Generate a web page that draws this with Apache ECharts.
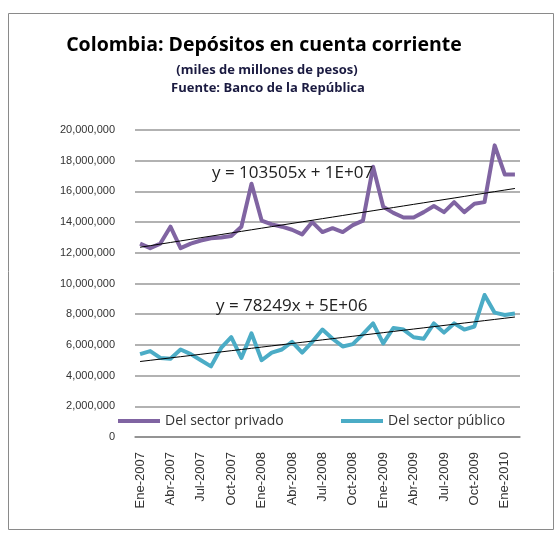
<!DOCTYPE html>
<html>
<head>
<meta charset="utf-8">
<script src="https://cdn.jsdelivr.net/npm/echarts@6/dist/echarts.min.js"></script>
<style>html,body{margin:0;padding:0;background:#fff;}#c{width:560px;height:537px;}</style>
</head>
<body>
<div id="c"></div>
<script>
const categories = [
 'Ene-2007','Feb-2007','Mar-2007','Abr-2007','May-2007','Jun-2007','Jul-2007','Ago-2007','Sep-2007','Oct-2007','Nov-2007','Dic-2007',
 'Ene-2008','Feb-2008','Mar-2008','Abr-2008','May-2008','Jun-2008','Jul-2008','Ago-2008','Sep-2008','Oct-2008','Nov-2008','Dic-2008',
 'Ene-2009','Feb-2009','Mar-2009','Abr-2009','May-2009','Jun-2009','Jul-2009','Ago-2009','Sep-2009','Oct-2009','Nov-2009','Dic-2009',
 'Ene-2010','Feb-2010'];

const privado = [12600000,12300000,12600000,13700000,12300000,12600000,12800000,12950000,13000000,13100000,
 13700000,16500000,14100000,13850000,13700000,13500000,13200000,14000000,13350000,13600000,
 13350000,13800000,14100000,17600000,15000000,14600000,14300000,14300000,14650000,15050000,
 14650000,15300000,14650000,15200000,15300000,19000000,17100000,17100000];

const publico = [5400000,5600000,5150000,5100000,5700000,5400000,5000000,4600000,5800000,6500000,5150000,6750000,
 5000000,5500000,5700000,6200000,5500000,6200000,7000000,6400000,5900000,6050000,6700000,7400000,
 6100000,7100000,7000000,6500000,6400000,7400000,6800000,7400000,7000000,7200000,9250000,8100000,7950000,8050000];

const seriesNames = ['Del sector privado','Del sector público'];
const trendLabels = ['y = 103505x + 1E+07','y = 78249x + 5E+06'];
const yTicks = {min:0, max:20000000, interval:2000000};

function linReg(arr){
  const n = arr.length;
  let sx=0, sy=0, sxx=0, sxy=0;
  for(let i=0;i<n;i++){const x=i+1, y=arr[i]; sx+=x; sy+=y; sxx+=x*x; sxy+=x*y;}
  const b=(n*sxy-sx*sy)/(n*sxx-sx*sx); const a=(sy-b*sx)/n;
  return arr.map((_,i)=>a+b*(i+1));
}

const chart = echarts.init(document.getElementById('c'), null, {renderer:'canvas'});
const font = "'Liberation Sans', Arial, sans-serif";
const fmt = v => v.toString().replace(/\B(?=(\d{3})+(?!\d))/g, ',');

chart.setOption({
  backgroundColor:'#fff',
  animation:false,
  graphic:[
    {type:'rect', shape:{x:8.5,y:13.5,width:545,height:516}, style:{fill:'none', stroke:'#8a8a8a', lineWidth:1}},
    {type:'text', x:264, y:45, style:{text:'Colombia: Depósitos en cuenta corriente', font:"bold 19.5px 'Open Sans', sans-serif", fill:'#000', align:'center', verticalAlign:'middle'}},
    {type:'text', x:267, y:70, style:{text:'(miles de millones de pesos)', font:"bold 13px 'Open Sans', sans-serif", fill:'#1a1a40', align:'center', verticalAlign:'middle'}},
    {type:'text', x:268, y:88, style:{text:'Fuente: Banco de la República', font:"bold 13px 'Open Sans', sans-serif", fill:'#1a1a40', align:'center', verticalAlign:'middle'}},
    {type:'text', x:212, y:173, z:10, style:{text:trendLabels[0], font:"17px 'Open Sans', sans-serif", fill:'#222', verticalAlign:'middle'}},
    {type:'text', x:216, y:306, z:10, style:{text:trendLabels[1], font:"17px 'Open Sans', sans-serif", fill:'#222', verticalAlign:'middle'}}
  ],
  legend:[
    {data:[seriesNames[0]], left:113, top:409, icon:'rect', itemWidth:42, itemHeight:4, itemGap:4,
     textStyle:{fontFamily:"'Open Sans', sans-serif", fontSize:14, color:'#333'}},
    {data:[seriesNames[1]], left:336, top:409, icon:'rect', itemWidth:42, itemHeight:4, itemGap:4,
     textStyle:{fontFamily:"'Open Sans', sans-serif", fontSize:14, color:'#333'}}
  ],
  grid:{left:135, right:40, top:130, bottom:100, containLabel:false},
  xAxis:{
    type:'category', data:categories, boundaryGap:true,
    axisLine:{lineStyle:{color:'#8a8a8a', width:1.5}},
    axisTick:{show:false},
    axisLabel:{interval:2, rotate:90, fontFamily:font, fontSize:13, color:'#333', margin:15}
  },
  yAxis:{
    type:'value', min:yTicks.min, max:yTicks.max, interval:yTicks.interval,
    axisLine:{show:false}, axisTick:{show:false},
    splitLine:{lineStyle:{color:'#999', width:1.5}},
    axisLabel:{formatter:fmt, fontFamily:font, fontSize:11, color:'#333', margin:20}
  },
  series:[
    {name:seriesNames[0], type:'line', data:privado, symbol:'none', color:'#8064A2', lineStyle:{width:4, color:'#8064A2', join:'round'}},
    {name:seriesNames[1], type:'line', data:publico, symbol:'none', color:'#4BACC6', lineStyle:{width:4, color:'#4BACC6', join:'round'}},
    {name:'trend1', type:'line', data:linReg(privado), symbol:'none', lineStyle:{width:1, color:'#000'}, z:5, silent:true},
    {name:'trend2', type:'line', data:linReg(publico), symbol:'none', lineStyle:{width:1, color:'#000'}, z:5, silent:true}
  ]
});
</script>
</body>
</html>
